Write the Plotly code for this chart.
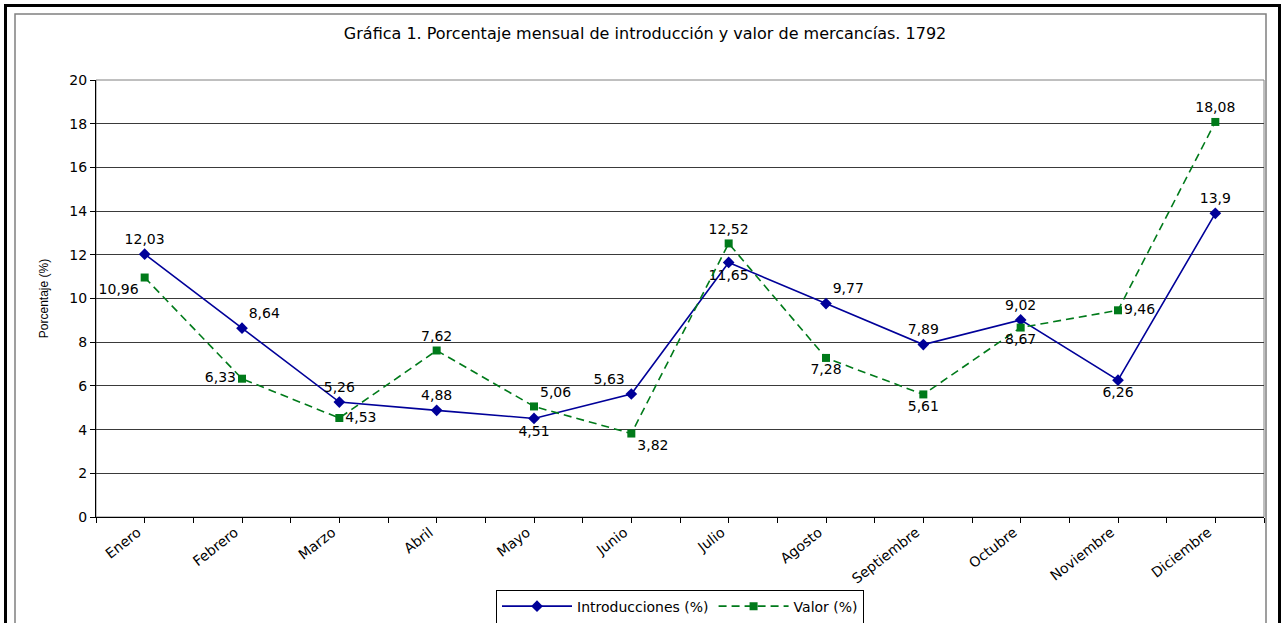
import plotly.graph_objects as go

meses = ["Enero", "Febrero", "Marzo", "Abril", "Mayo", "Junio", "Julio",
         "Agosto", "Septiembre", "Octubre", "Noviembre", "Diciembre"]
introducciones = [12.03, 8.64, 5.26, 4.88, 4.51, 5.63, 11.65, 9.77, 7.89, 9.02, 6.26, 13.9]
valor = [10.96, 6.33, 4.53, 7.62, 5.06, 3.82, 12.52, 7.28, 5.61, 8.67, 9.46, 18.08]

pos_intro = ["top center", "top right", "top center", "top center", "bottom center", "top left",
             "bottom center", "top right", "top center", "top center", "bottom center", "top center"]
pos_valor = ["bottom left", "middle left", "middle right", "top center", "top right", "bottom right",
             "top center", "bottom center", "bottom center", "bottom center", "middle right", "top center"]

def fmt(v):
    return ("%g" % v).replace(".", ",")

xs = list(range(len(meses)))
FONT = "DejaVu Sans, Liberation Sans, Arial, sans-serif"
NARROW = "Liberation Sans Narrow, Liberation Sans, Arial, sans-serif"

fig = go.Figure()
fig.add_trace(go.Scatter(
    x=xs, y=introducciones, name="Introducciones (%)",
    mode="lines+markers+text",
    line=dict(color="#000099", width=1.6),
    marker=dict(symbol="diamond", size=9, color="#000099"),
    text=[fmt(v) for v in introducciones], textposition=pos_intro,
    textfont=dict(family=FONT, size=14, color="black"),
))
fig.add_trace(go.Scatter(
    x=xs, y=valor, name="Valor (%)",
    mode="lines+markers+text",
    line=dict(color="#007A1A", width=1.6, dash="8px,5px"),
    marker=dict(symbol="square", size=8, color="#007A1A"),
    text=[fmt(v) for v in valor], textposition=pos_valor,
    textfont=dict(family=FONT, size=14, color="black"),
))

tickvals = [i * 0.5 - 0.5 for i in range(25)]
ticktext = [meses[int(t)] if float(t).is_integer() else "" for t in tickvals]

fig.update_layout(
    width=1286, height=623,
    margin=dict(l=96, r=22, t=80, b=106, autoexpand=False),
    paper_bgcolor="white", plot_bgcolor="white",
    font=dict(family=FONT, size=14, color="black"),
    title=dict(text="Gráfica 1. Porcentaje mensual de introducción y valor de mercancías. 1792",
               x=0.5016, xref="container", xanchor="center",
               y=1 - 33 / 623, yref="container", yanchor="middle",
               font=dict(family=FONT, size=16, color="black")),
    showlegend=True,
    legend=dict(orientation="h", x=0.5, xanchor="center", y=-0.166, yanchor="top",
                bordercolor="black", borderwidth=1, bgcolor="white",
                font=dict(family=FONT, size=14, color="black"),
                itemwidth=70, tracegroupgap=0),
    xaxis=dict(range=[-0.5, 11.5], tickmode="array", tickvals=tickvals, ticktext=ticktext,
               tickangle=-38, ticks="outside", ticklen=5, tickcolor="black",
               ticklabelstandoff=-4, ticklabelshift=-7,
               showline=True, linecolor="black", linewidth=1, showgrid=False, zeroline=False,
               tickfont=dict(family=FONT, size=14, color="black")),
    yaxis=dict(range=[0, 20], dtick=2, tick0=0, ticks="outside", ticklen=5, tickcolor="black",
               showline=True, linecolor="black", linewidth=1,
               showgrid=True, gridcolor="#3a3a3a", gridwidth=1, zeroline=False,
               tickfont=dict(family=FONT, size=14, color="black"),
               title=dict(text="Porcentaje (%)", standoff=18,
                          font=dict(family=NARROW, size=12, color="black"))),
    shapes=[
        dict(type="rect", xref="paper", yref="paper", x0=0, x1=1, y0=0, y1=1,
             line=dict(color="#808080", width=1), layer="below"),
        dict(type="rect", xref="paper", yref="paper",
             x0=(15 - 96) / 1168, x1=(1266 - 96) / 1168,
             y0=(517 - 640) / 437, y1=(517 - 14) / 437,
             line=dict(color="#808080", width=1.5), layer="below"),
        dict(type="rect", xref="paper", yref="paper",
             x0=(5.5 - 96) / 1168, x1=(1279.5 - 96) / 1168,
             y0=(517 - 640) / 437, y1=(517 - 5.5) / 437,
             line=dict(color="black", width=3), layer="below"),
    ],
)

fig.write_html("out.html", config={"displayModeBar": False},
               post_script="document.body.style.margin='0';")
